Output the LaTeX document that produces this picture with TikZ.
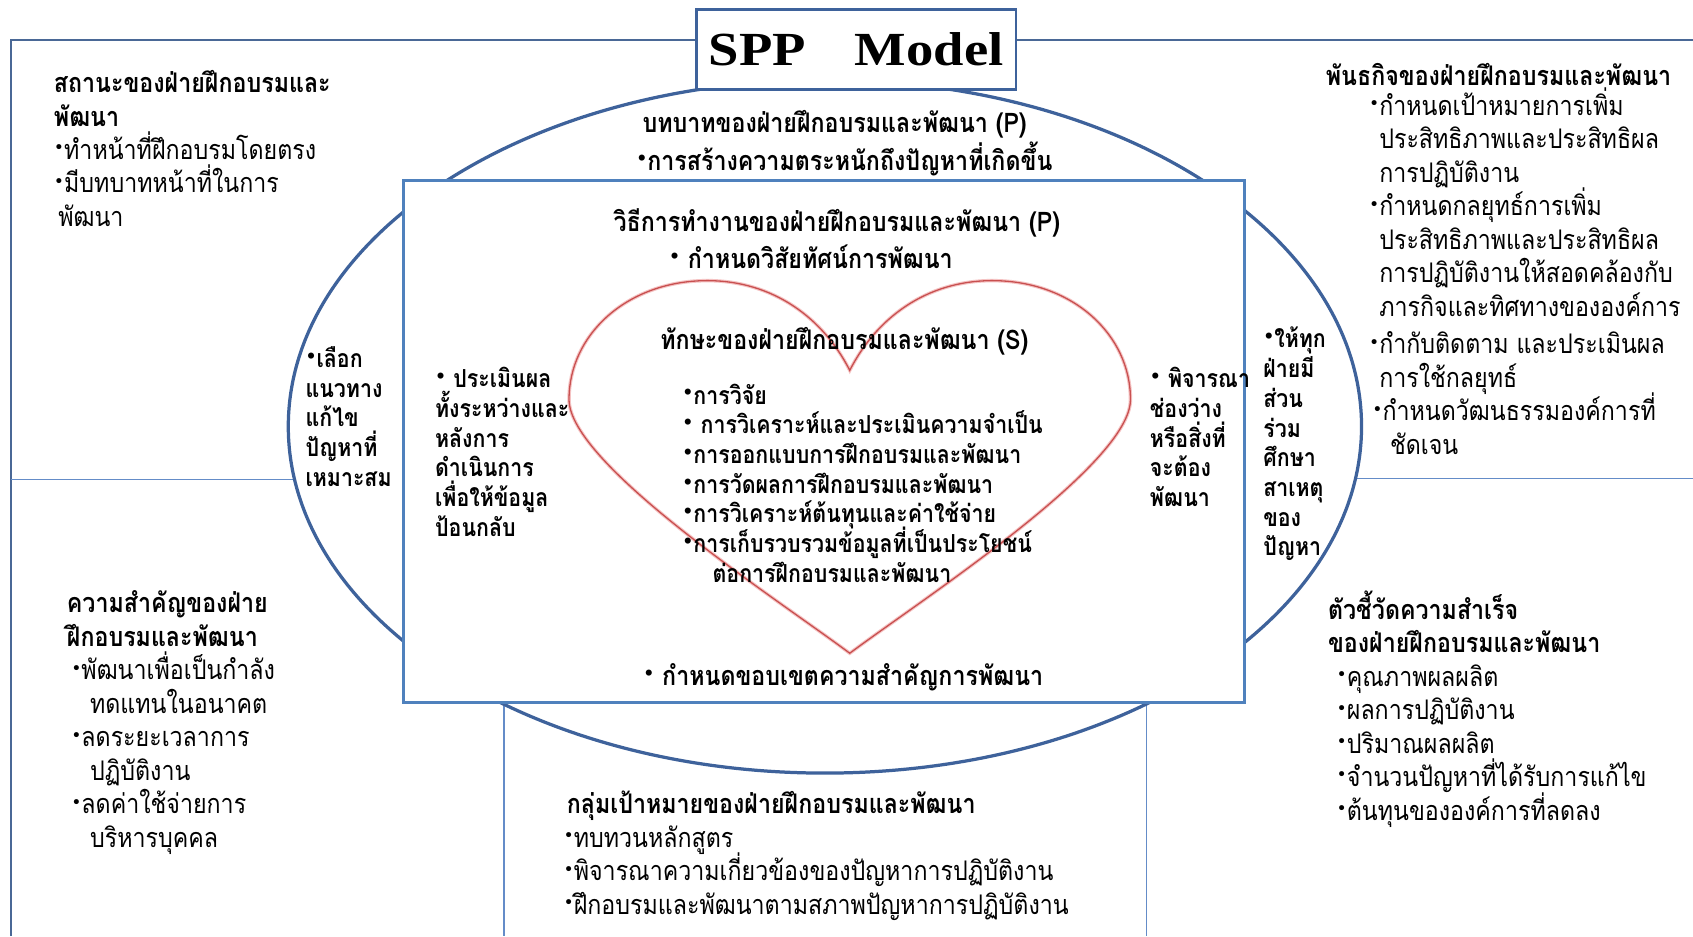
\documentclass[tikz,border=0pt]{standalone}
\usepackage{fontspec}
\usetikzlibrary{shapes.geometric}
\newfontfamily\thai[Script=Thai,FakeStretch=0.86]{Loma}
\newfontfamily\serifb{Liberation Serif}
\newfontfamily\dotfont{DejaVu Sans}
\newcommand{\bul}{\raisebox{0.4ex}{\dotfont\fontsize{8}{8}\selectfont •}}
\newcommand{\ind}{\hphantom{\bul}}
\lineskiplimit=-100pt
\lineskip=0pt
\definecolor{framecol}{RGB}{74,104,150}
\definecolor{ellcol}{RGB}{62,98,155}
\definecolor{rectcol}{RGB}{79,129,189}
\definecolor{thincol}{RGB}{100,140,200}
\definecolor{heartred}{RGB}{200,80,80}
\definecolor{heartglow}{RGB}{245,195,195}
\begin{document}
\begin{tikzpicture}[x=0.5pt,y=-0.5pt,
  frameline/.style={draw=framecol,line width=1pt},
  thinline/.style={draw=thincol,line width=0.7pt},
  txt/.style={inner sep=0pt,outer sep=0pt,align=left,
    font=\thai\fontsize{12.5}{15.5}\selectfont},
  intxt/.style={inner sep=0pt,outer sep=0pt,align=left,
    font=\thai\bfseries\fontsize{11.5}{13.75}\selectfont},
  headtxt/.style={inner sep=0pt,outer sep=0pt,
    font=\thai\bfseries\fontsize{12.5}{15.5}\selectfont},
]
\useasboundingbox (0,0) rectangle (1568,867);

% outer frame (left and top edges)
\coordinate (fbl) at (10,867);
\coordinate (ftl) at (10,37);
\coordinate (ftr) at (1568,37);
\draw[frameline] (fbl) -- (ftl) -- (ftr);

% thin dividers
\coordinate (ml1) at (10,444);
\coordinate (ml2) at (300,444);
\coordinate (mr1) at (1230,443);
\coordinate (mr2) at (1568,443);
\draw[thinline] (ml1) -- (ml2);
\draw[thinline] (mr1) -- (mr2);
\coordinate (bv1t) at (467,651);
\coordinate (bv1b) at (467,867);
\coordinate (bv2t) at (1062,651);
\coordinate (bv2b) at (1062,867);
\draw[thinline] (bv1t) -- (bv1b);
\draw[thinline] (bv2t) -- (bv2b);

% central ellipse, inner box, title box
\node[ellipse,draw=ellcol,line width=1.5pt,fill=white,inner sep=0pt,
  minimum width=497pt,minimum height=321pt] (ell) at (764,395) {};
\node[rectangle,draw=rectcol,line width=1.4pt,fill=white,inner sep=0pt,
  minimum width=389.5pt,minimum height=242pt] (inner) at (763.5,409) {};
\node[rectangle,draw=ellcol,line width=1.2pt,fill=white,inner sep=0pt,
  minimum width=148pt,minimum height=37pt] (spp) at (793,46)
  {\serifb\bfseries\fontsize{22}{22}\selectfont\scalebox{1.15}[1]{SPP\hspace{0.9em}Model}};

% heart
\draw[draw=heartglow,line width=1.6pt]
  (787,343) .. controls (760,290) and (710,258) .. (650,260)
  .. controls (580,262) and (527,310) .. (527,370)
  .. controls (527,430) and (720,555) .. (787,605)
  .. controls (854,555) and (1047,430) .. (1047,370)
  .. controls (1047,310) and (994,262) .. (924,260)
  .. controls (864,258) and (814,290) .. (787,343) -- cycle;
\draw[draw=heartred,line width=0.6pt]
  (787,343) .. controls (760,290) and (710,258) .. (650,260)
  .. controls (580,262) and (527,310) .. (527,370)
  .. controls (527,430) and (720,555) .. (787,605)
  .. controls (854,555) and (1047,430) .. (1047,370)
  .. controls (1047,310) and (994,262) .. (924,260)
  .. controls (864,258) and (814,290) .. (787,343) -- cycle;

% top-left block
\node[txt,anchor=north west] (status) at (50,64)
  {\strut\bfseries สถานะของฝ่ายฝึกอบรมและ\\
   \bfseries พัฒนา\\
   \bul ทำหน้าที่ฝึกอบรมโดยตรง\\
   \bul มีบทบาทหน้าที่ในการ\\
   \hspace{2pt}พัฒนา};

% top-right block
\node[headtxt,anchor=base west] (mission) at (1228,79.6) {พันธกิจของฝ่ายฝึกอบรมและพัฒนา};
\node[txt,anchor=north west] (missionlist) at (1268,81)
  {\strut\bul กำหนดเป้าหมายการเพิ่ม\\
   \ind ประสิทธิภาพและประสิทธิผล\\
   \ind การปฏิบัติงาน\\
   \bul กำหนดกลยุทธ์การเพิ่ม\\
   \ind ประสิทธิภาพและประสิทธิผล\\
   \ind การปฏิบัติงานให้สอดคล้องกับ\\
   \ind ภารกิจและทิศทางขององค์การ\\[2pt]
   \bul กำกับติดตาม และประเมินผล\\
   \ind การใช้กลยุทธ์\\
   \hspace{1.5pt}\bul กำหนดวัฒนธรรมองค์การที่\\
   \hspace{5pt}\ind ชัดเจน};

% bottom-left block
\node[txt,anchor=north west] (importance) at (62,546)
  {\strut\bfseries ความสำคัญของฝ่าย\\
   \bfseries ฝึกอบรมและพัฒนา\\
   \hspace{2pt}\bul พัฒนาเพื่อเป็นกำลัง\\
   \hspace{6pt}\ind ทดแทนในอนาคต\\
   \hspace{2pt}\bul ลดระยะเวลาการ\\
   \hspace{6pt}\ind ปฏิบัติงาน\\
   \hspace{2pt}\bul ลดค่าใช้จ่ายการ\\
   \hspace{6pt}\ind บริหารบุคคล};

% bottom-right block
\node[txt,anchor=north west] (indicators) at (1230,547)
  {\strut\bfseries ตัวชี้วัดความสำเร็จ\\
   \bfseries ของฝ่ายฝึกอบรมและพัฒนา\\
   \hspace{4pt}\bul คุณภาพผลผลิต\\
   \hspace{4pt}\bul ผลการปฏิบัติงาน\\
   \hspace{4pt}\bul ปริมาณผลผลิต\\
   \hspace{4pt}\bul จำนวนปัญหาที่ได้รับการแก้ไข\\
   \hspace{4pt}\bul ต้นทุนขององค์การที่ลดลง};

% bottom-centre block
\node[txt,anchor=north west] (targets) at (522,732)
  {\strut\hspace{1.5pt}\bfseries กลุ่มเป้าหมายของฝ่ายฝึกอบรมและพัฒนา\\
   \bul ทบทวนหลักสูตร\\
   \bul พิจารณาความเกี่ยวข้องของปัญหาการปฏิบัติงาน\\
   \bul ฝึกอบรมและพัฒนาตามสภาพปัญหาการปฏิบัติงาน};

% role (top of ellipse)
\node[headtxt,anchor=base] (role) at (773,122.6) {บทบาทของฝ่ายฝึกอบรมและพัฒนา (P)};
\node[headtxt,anchor=base] (awareness) at (782,157.6) {\bul การสร้างความตระหนักถึงปัญหาที่เกิดขึ้น};

% working method (inner box)
\node[headtxt,anchor=base] (method) at (775,214.6) {วิธีการทำงานของฝ่ายฝึกอบรมและพัฒนา (P)};
\node[headtxt,anchor=base] (vision) at (751,248.6) {\bul\ กำหนดวิสัยทัศน์การพัฒนา};
\node[headtxt,anchor=base] (scope) at (781,634.6) {\bul\ กำหนดขอบเขตความสำคัญการพัฒนา};

% skills (heart)
\node[headtxt,anchor=base] (skills) at (782,323.6) {ทักษะของฝ่ายฝึกอบรมและพัฒนา (S)};
\node[intxt,anchor=north west] (skilllist) at (632,355)
  {\strut\bul การวิจัย\\
   \bul\ การวิเคราะห์และประเมินความจำเป็น\\
   \bul การออกแบบการฝึกอบรมและพัฒนา\\
   \bul การวัดผลการฝึกอบรมและพัฒนา\\
   \bul การวิเคราะห์ต้นทุนและค่าใช้จ่าย\\
   \bul การเก็บรวบรวมข้อมูลที่เป็นประโยชน์\\
   \hspace{14pt}ต่อการฝึกอบรมและพัฒนา};

% side columns inside the box
\node[intxt,anchor=north west] (evaluate) at (403,340)
  {\strut\bul\ ประเมินผล\\ ทั้งระหว่างและ\\ หลังการ\\ ดำเนินการ\\ เพื่อให้ข้อมูล\\ ป้อนกลับ};
\node[intxt,anchor=north west] (gap) at (1065,340)
  {\strut\bul\ พิจารณา\\ ช่องว่าง\\ หรือสิ่งที่\\ จะต้อง\\ พัฒนา};

% side columns between box and ellipse
\node[intxt,anchor=north west] (choose) at (283,321)
  {\strut\bul เลือก\\ แนวทาง\\ แก้ไข\\ ปัญหาที่\\ เหมาะสม};
\node[intxt,anchor=north west] (involve) at (1170,303)
  {\strut\bul ให้ทุก\\ ฝ่ายมี\\ ส่วน\\ ร่วม\\ ศึกษา\\ สาเหตุ\\ ของ\\ ปัญหา};
\end{tikzpicture}
\end{document}
